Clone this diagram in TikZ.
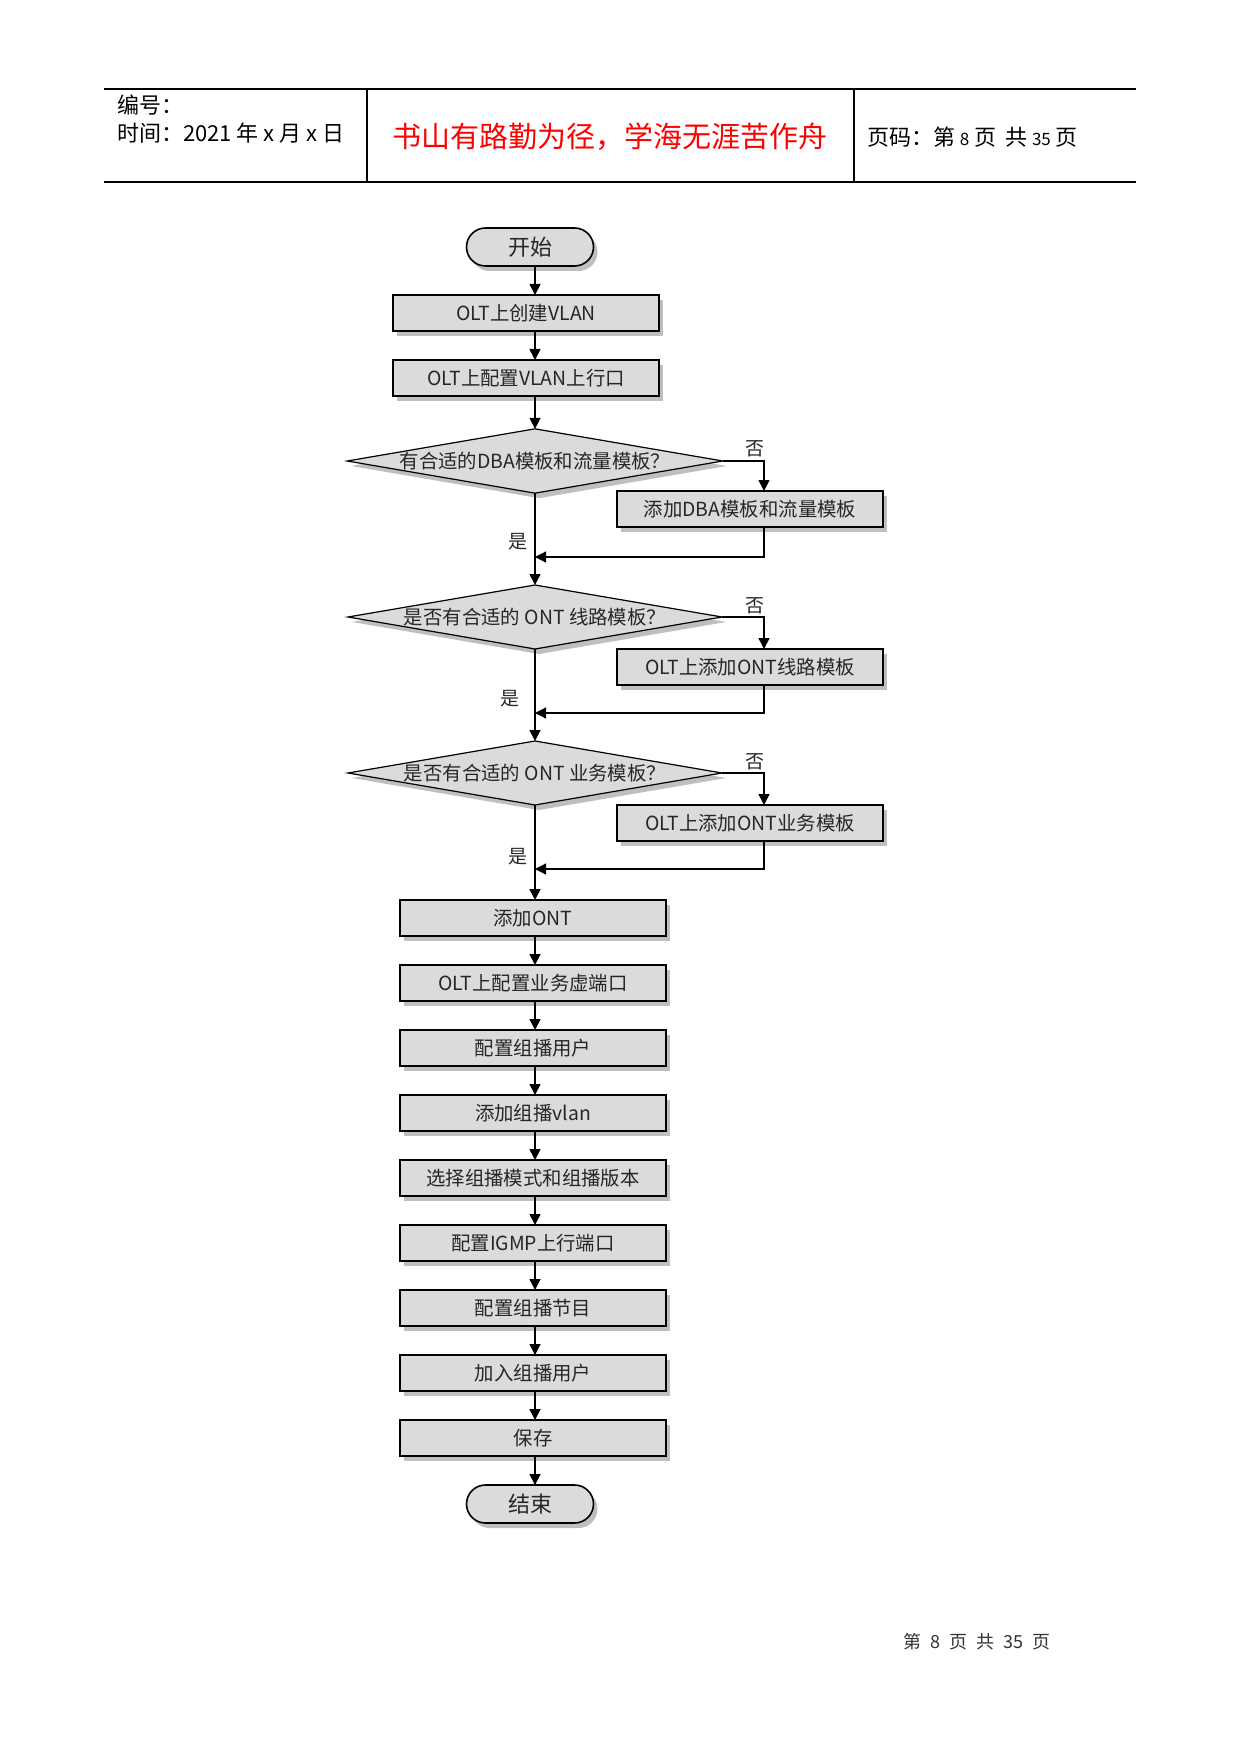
\documentclass[tikz,border=0pt]{standalone}
\usepackage{fontspec}
\setmainfont{Noto Sans CJK SC}
\usetikzlibrary{shapes.geometric,shadows,arrows.meta,positioning,calc}

\begin{document}
\begin{tikzpicture}[
    x=0.5pt, y=-0.5pt,
    outer sep=0pt,
    boxshadow/.style={drop shadow={shadow xshift=2pt, shadow yshift=-2.5pt, fill=black!25, opacity=1}},
    stepbox/.style={draw, line width=0.8pt, rectangle, fill=black!14, boxshadow, minimum width=133pt, minimum height=18pt, inner sep=0pt, text=black!85, font=\fontsize{9.7}{12}\selectfont},
    decision/.style={draw, line width=0.6pt, diamond, aspect=5.84, fill=black!14, boxshadow, minimum width=187pt, minimum height=32pt, inner sep=0pt, text=black!85, font=\fontsize{9.7}{12}\selectfont},
    terminal/.style={draw, line width=0.8pt, rectangle, rounded corners=9.5pt, fill=black!14, boxshadow, minimum width=63.5pt, minimum height=19pt, inner sep=0pt, text=black!85, font=\fontsize{11}{13}\selectfont},
    arr/.style={line width=0.8pt, -{Triangle[length=5.5pt,width=5.5pt]}},
    lbl/.style={inner sep=0pt, text=black!85, font=\fontsize{9.5}{11}\selectfont},
    hdtext/.style={anchor=west, inner sep=0pt, font=\fontsize{11}{13}\selectfont}
]
    \fill[white] (0,0) rectangle (1241,1754);
    \useasboundingbox (0,0) rectangle (1241,1754);

    % page header
    \draw[line width=0.6pt] (104,89) -- (1136,89);
    \draw[line width=0.6pt] (104,182) -- (1136,182);
    \draw[line width=0.6pt] (367,89) -- (367,182);
    \draw[line width=0.6pt] (854,89) -- (854,182);
    \node [hdtext] (hnum) at (117,105) {编号：};
    \node [hdtext] (hdate) at (117,133) {时间：2021 年 x 月 x 日};
    \node [inner sep=0pt, text=red, font=\fontsize{14.5}{17}\selectfont] (htitle) at (610,137) {书山有路勤为径，学海无涯苦作舟};
    \node [hdtext] (hpage) at (867,137) {页码：第 {\fontsize{8.5}{10}\selectfont 8} 页\hspace{0.4em}共 {\fontsize{8.5}{10}\selectfont 35} 页};

    % flow chart
    \coordinate (spine) at (535,0);
    \node [terminal] (start) at (530,247) {开始};
    \node [stepbox] (s1) at (526,313) {OLT上创建VLAN};
    \node [stepbox] (s2) at (526,378) {OLT上配置VLAN上行口};
    \node [decision] (d1) at (535,461) {有合适的DBA模板和流量模板？};
    \node [stepbox] (n1) at (750,509) {添加DBA模板和流量模板};
    \node [decision] (d2) at (535,617) {是否有合适的 ONT 线路模板？};
    \node [stepbox] (n2) at (750,667) {OLT上添加ONT线路模板};
    \node [decision] (d3) at (535,773) {是否有合适的 ONT 业务模板？};
    \node [stepbox] (n3) at (750,823) {OLT上添加ONT业务模板};
    \node [stepbox] (s3) at (533,918) {添加ONT};
    \node [stepbox] (s4) at (533,983) {OLT上配置业务虚端口};
    \node [stepbox] (s5) at (533,1048) {配置组播用户};
    \node [stepbox] (s6) at (533,1113) {添加组播vlan};
    \node [stepbox] (s7) at (533,1178) {选择组播模式和组播版本};
    \node [stepbox] (s8) at (533,1243) {配置IGMP上行端口};
    \node [stepbox] (s9) at (533,1308) {配置组播节目};
    \node [stepbox] (s10) at (533,1373) {加入组播用户};
    \node [stepbox] (s11) at (533,1438) {保存};
    \node [terminal] (stop) at (530,1504) {结束};

    \coordinate (m1) at (535,557);
    \coordinate (m2) at (535,713);
    \coordinate (m3) at (535,869);

    \node [lbl] (no1) at (755,449) {否};
    \node [lbl] (no2) at (755,606) {否};
    \node [lbl] (no3) at (755,762) {否};
    \node [lbl] (yes1) at (518,542) {是};
    \node [lbl] (yes2) at (510,699) {是};
    \node [lbl] (yes3) at (518,857) {是};

    \draw [arr] (start.south -| spine) -- (s1.north -| spine);
    \draw [arr] (s1.south -| spine) -- (s2.north -| spine);
    \draw [arr] (s2.south -| spine) -- (d1.north);
    \draw [arr] (d1.south) -- (d2.north);
    \draw [arr] (d2.south) -- (d3.north);
    \draw [arr] (d3.south) -- (s3.north -| spine);

    \draw [arr] (d1.east) -| ([xshift=7pt]n1.north);
    \draw [arr] (d2.east) -| ([xshift=7pt]n2.north);
    \draw [arr] (d3.east) -| ([xshift=7pt]n3.north);
    \draw [arr, line width=0.6pt] ([xshift=7pt]n1.south) |- (m1);
    \draw [arr, line width=0.6pt] ([xshift=7pt]n2.south) |- (m2);
    \draw [arr, line width=0.6pt] ([xshift=7pt]n3.south) |- (m3);

    \foreach \a/\b in {s3/s4, s4/s5, s5/s6, s6/s7, s7/s8, s8/s9, s9/s10, s10/s11, s11/stop}
        \draw [arr] (\a.south -| spine) -- (\b.north -| spine);

    % page footer
    \node [inner sep=0pt, text=black!80, font=\fontsize{9}{11}\selectfont] (foot) at (977,1642) {第\hspace{0.5em}8\hspace{0.5em}页\hspace{0.5em}共\hspace{0.5em}35\hspace{0.5em}页};
\end{tikzpicture}
\end{document}
